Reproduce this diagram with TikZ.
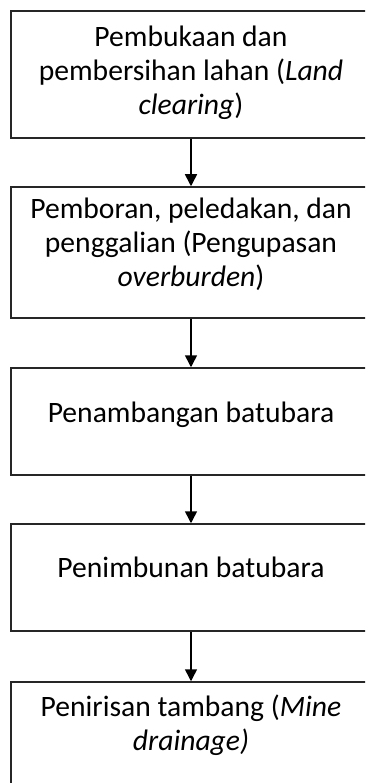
\documentclass[tikz,border=0pt]{standalone}
\usepackage{fontspec}
\setmainfont{Carlito}
\usetikzlibrary{arrows.meta}
\tikzset{
  box/.style={draw=black!85, line width=1.5pt, minimum width=360pt, inner sep=0pt, fill=white},
  txt/.style={align=center, anchor=base, inner sep=0pt, font=\fontsize{29.6}{34}\selectfont},
  conn/.style={line width=1.5pt, -{Triangle[width=12pt,length=12pt]}}
}
\begin{document}
\begin{tikzpicture}[x=1pt,y=-1pt]
\useasboundingbox (0,0) rectangle (365,783);
\clip (0,0) rectangle (365,783);
\fill[white] (0,0) rectangle (365,783);
\node[box, minimum height=127pt] (b1) at (191,74.5) {};
\node[box, minimum height=131pt] (b2) at (191,252.5) {};
\node[box, minimum height=107pt] (b3) at (191,421.5) {};
\node[box, minimum height=107pt] (b4) at (191,577.5) {};
\node[box, minimum height=130pt] (b5) at (191,747) {};
\node[txt] (t1) at (191,115) {Pembukaan dan\\pembersihan lahan (\textit{Land}\\\textit{clearing})};
\node[txt] (t2) at (191,287) {Pemboran, peledakan, dan\\penggalian (Pengupasan\\\textit{overburden})};
\node[txt] (t3) at (191,422) {Penambangan batubara};
\node[txt] (t4) at (191,577) {Penimbunan batubara};
\node[txt] (t5) at (191,750) {Penirisan tambang (\textit{Mine}\\\textit{drainage)}};
\draw[conn] (b1.south) -- (b2.north);
\draw[conn] (b2.south) -- (b3.north);
\draw[conn] (b3.south) -- (b4.north);
\draw[conn] (b4.south) -- (b5.north);
\end{tikzpicture}
\end{document}
